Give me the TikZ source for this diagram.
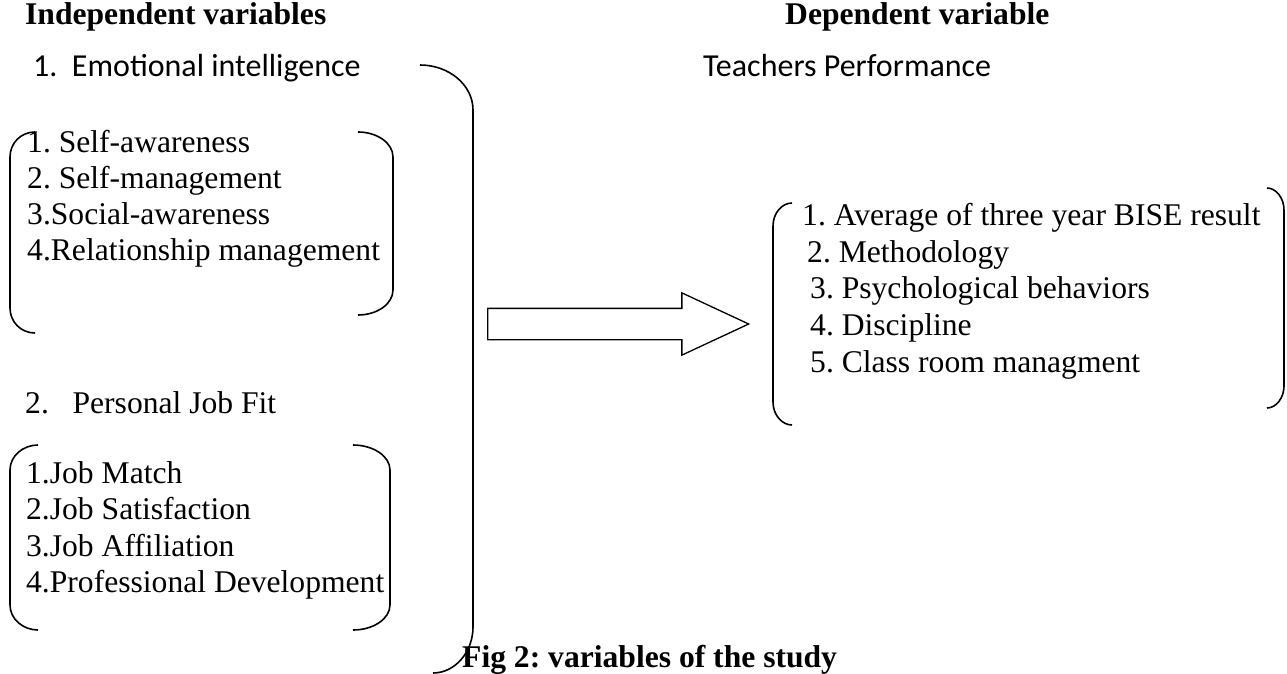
\documentclass[tikz,border=0pt]{standalone}
\usepackage{fontspec}
\setmainfont{Liberation Serif}
\newfontfamily\calibri{Carlito}
\usetikzlibrary{shapes.arrows}

\begin{document}
\begin{tikzpicture}[
  x=1pt, y=-1pt,
  txt/.style={anchor=base west, inner sep=0pt, font=\fontsize{31.6}{36}\selectfont},
  head/.style={anchor=base west, inner sep=0pt, font=\fontsize{31.6}{36}\selectfont\bfseries},
  cal/.style={anchor=base west, inner sep=0pt, font=\calibri\fontsize{32}{38}\selectfont},
  brace/.style={line width=1.6pt},
  bigarrow/.style={single arrow, draw, line width=1.3pt, inner sep=15pt,
    single arrow head extend=15.5pt, single arrow tip angle=50,
    minimum height=261pt}
]
  \useasboundingbox (0,0) rectangle (1287,674);

  % headings
  \node[head] (indep) at (25,25) {Independent variables};
  \node[head] (dep) at (785,25) {Dependent variable};
  \node[cal] (emo) at (33,77) {1.\ \ Emotional intelligence};
  \node[cal] (perf) at (703,77) {Teachers Performance};

  % emotional intelligence
  \node[txt] (ei1) at (27,152) {1.\ Self-awareness};
  \node[txt] (ei2) at (27,188) {2.\ Self-management};
  \node[txt] (ei3) at (27,224) {3.Social-awareness};
  \node[txt] (ei4) at (27,260) {4.Relationship management};
  \draw[brace] (35,132) .. controls (21,132) and (10,143) .. (10,157) -- (10,308)
    .. controls (10,322) and (21,333) .. (35,333);
  \draw[brace] (358,132) .. controls (377,132) and (393,143) .. (393,157) -- (393,290)
    .. controls (393,304) and (377,315) .. (358,315);

  % personal job fit
  \node[txt] (pjf) at (25,413) {2.\ \ \ Personal Job Fit};
  \node[txt] (jf1) at (26,483) {1.Job Match};
  \node[txt] (jf2) at (26,519) {2.Job Satisfaction};
  \node[txt] (jf3) at (26,556) {3.Job Affiliation};
  \node[txt] (jf4) at (26,592) {4.Professional Development};
  \draw[brace] (38,445) .. controls (23,445) and (10,456) .. (10,470) -- (10,605)
    .. controls (10,619) and (23,630) .. (38,630);
  \draw[brace] (353,445) .. controls (373,445) and (390,456) .. (390,470) -- (390,605)
    .. controls (390,619) and (373,630) .. (353,630);

  % big bracket
  \draw[brace] (420,65) .. controls (449,65) and (473,85) .. (473,110) -- (473,627)
    .. controls (473,652) and (455,673) .. (433,673);

  % arrow
  \node[bigarrow, anchor=tail] (arr) at (487,324) {};

  % teachers performance
  \node[txt] (tp1) at (802,225) {1.\ Average of three year BISE result};
  \node[txt] (tp2) at (807,262) {2.\ Methodology};
  \node[txt] (tp3) at (810,298) {3.\ Psychological behaviors};
  \node[txt] (tp4) at (810,335) {4.\ Discipline};
  \node[txt] (tp5) at (810,372) {5.\ Class room managment};
  \draw[brace] (792,203) .. controls (782,203) and (773,213) .. (773,226) -- (773,402)
    .. controls (773,415) and (782,425) .. (792,425);
  \draw[brace] (1267,188) .. controls (1276,188) and (1284,198) .. (1284,210) -- (1284,386)
    .. controls (1284,398) and (1276,408) .. (1267,408);

  % caption
  \node[head] (cap) at (462,667) {Fig 2:\ variables of the study};
\end{tikzpicture}
\end{document}
